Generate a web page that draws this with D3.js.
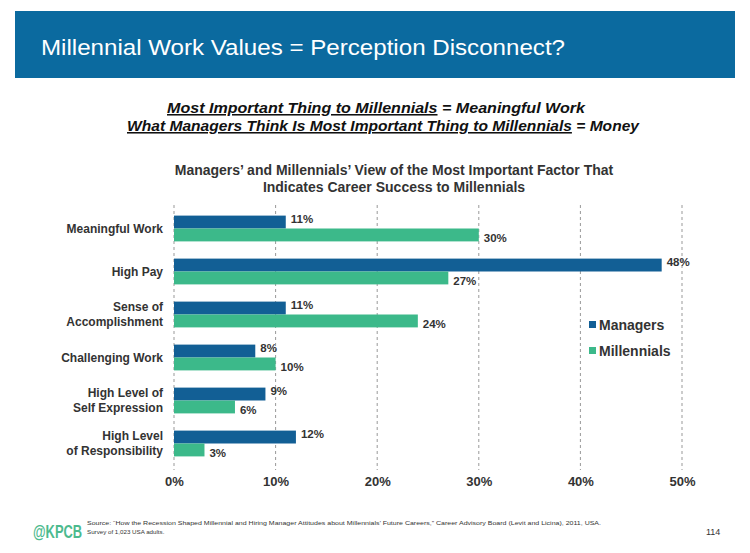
<!DOCTYPE html>
<html><head><meta charset="utf-8">
<script src="https://cdn.jsdelivr.net/npm/d3@7"></script>
<style>body{margin:0;background:#fff;}svg{display:block;font-family:"Liberation Sans",Arial,sans-serif;}</style>
</head><body><svg id="c" width="750" height="553"></svg>
<script>
const categories = [["Meaningful Work"],["High Pay"],["Sense of","Accomplishment"],["Challenging Work"],["High Level of","Self Expression"],["High Level","of Responsibility"]];
const managers = [11,48,11,8,9,12];
const millennials = [30,27,24,10,6,3];
const ticks = [0,10,20,30,40,50];
const seriesNames = ["Managers","Millennials"];
const colors = ["#125f95","#3cb98a"];

const svg = d3.select("#c");
// header
svg.append("rect").attr("x",15).attr("y",11).attr("width",720).attr("height",67).attr("fill","#0b6a9f");
svg.append("text").attr("x",41).attr("y",55).attr("fill","#fff").attr("font-size",22).attr("textLength",524).attr("lengthAdjust","spacingAndGlyphs").text("Millennial Work Values = Perception Disconnect?");

// subtitles
const sub = svg.append("text").attr("x",167).attr("y",113).attr("font-size",15.5).attr("font-weight","bold").attr("font-style","italic").attr("fill","#111")
  .attr("textLength",418).attr("lengthAdjust","spacingAndGlyphs");
sub.append("tspan").attr("text-decoration","underline").text("Most Important Thing to Millennials");
sub.append("tspan").text(" = Meaningful Work");
const sub2 = svg.append("text").attr("x",127).attr("y",131).attr("font-size",15.5).attr("font-weight","bold").attr("font-style","italic").attr("fill","#111")
  .attr("textLength",512).attr("lengthAdjust","spacingAndGlyphs");
sub2.append("tspan").attr("text-decoration","underline").text("What Managers Think Is Most Important Thing to Millennials");
sub2.append("tspan").text(" = Money");

svg.append("text").attr("x",394).attr("y",175).attr("text-anchor","middle").attr("font-size",14).attr("font-weight","bold").attr("fill","#333").text("Managers\u2019 and Millennials\u2019 View of the Most Important Factor That");
svg.append("text").attr("x",394).attr("y",192).attr("text-anchor","middle").attr("font-size",14).attr("font-weight","bold").attr("fill","#333").text("Indicates Career Success to Millennials");

const x = d3.scaleLinear().domain([0,50]).range([174,682]);
const y = d3.scaleBand().domain(d3.range(categories.length)).range([207,465]).paddingInner(0.4).paddingOuter(0.2);
const sy = d3.scaleBand().domain([0,1]).range([0,y.bandwidth()]);

// grid
const g = svg.append("g");
g.selectAll("line.grid").data(ticks).join("line")
  .attr("x1",d=>x(d)).attr("x2",d=>x(d)).attr("y1",205).attr("y2",470)
  .attr("stroke","#999").attr("stroke-width",1).attr("stroke-dasharray","3,3");

const axis = d3.axisBottom(x).tickValues(ticks).tickFormat(d=>d+"%").tickSize(0).tickPadding(0);
const ax = svg.append("g").attr("transform","translate(0,477)").call(axis);
ax.select(".domain").remove();
ax.selectAll("text").attr("font-size",13).attr("font-weight","bold").attr("fill","#333").attr("dy","0.71em").attr("font-family","Liberation Sans, Arial, sans-serif");

const series = [managers, millennials];
series.forEach((vals,si)=>{
  svg.append("g").selectAll("rect").data(vals).join("rect")
    .attr("x",x(0)).attr("y",(d,i)=>y(i)+sy(si)).attr("width",d=>x(d)-x(0)).attr("height",sy.bandwidth())
    .attr("fill",colors[si]);
  svg.append("g").selectAll("text").data(vals).join("text")
    .attr("x",d=>x(d)+5).attr("y",(d,i)=>y(i)+sy(si)+sy.bandwidth()/2-(si===0?3:-3)).attr("dy","0.35em")
    .attr("font-size",11.5).attr("font-weight","bold").attr("fill","#333").text(d=>d+"%");
});

// category labels
categories.forEach((lines,i)=>{
  const t = svg.append("text").attr("x",163).attr("text-anchor","end").attr("font-size",12).attr("font-weight","bold").attr("fill","#333");
  const cy = y(i)+y.bandwidth()/2;
  lines.forEach((l,j)=>{
    t.append("tspan").attr("x",163).attr("y",cy + (j-(lines.length-1)/2)*15).attr("dy","0.35em").text(l);
  });
});

// legend
seriesNames.forEach((n,i)=>{
  svg.append("rect").attr("x",589).attr("y",321+i*26).attr("width",7).attr("height",7).attr("fill",colors[i]);
  svg.append("text").attr("x",599).attr("y",325+i*26).attr("dy","0.35em").attr("font-size",14).attr("font-weight","bold").attr("fill","#333").text(n);
});

// footer
svg.append("text").attr("transform","translate(33,538) scale(0.68,1)").attr("font-size",19).attr("font-weight","bold").attr("fill","#4cba8e")
  .text("@KPCB");
svg.append("text").attr("x",87).attr("y",525).attr("font-size",6.2).attr("fill","#333")
  .attr("textLength",514).attr("lengthAdjust","spacingAndGlyphs")
  .text("Source: \u201cHow the Recession Shaped Millennial and Hiring Manager Attitudes about Millennials\u2019 Future Careers,\u201d Career Advisory Board (Levit and Licina), 2011, USA.");
svg.append("text").attr("x",87).attr("y",534).attr("font-size",6.2).attr("fill","#333").text("Survey of 1,023 USA adults.");
svg.append("text").attr("x",706).attr("y",535).attr("font-size",9).attr("fill","#333").text("114");
</script></body></html>
